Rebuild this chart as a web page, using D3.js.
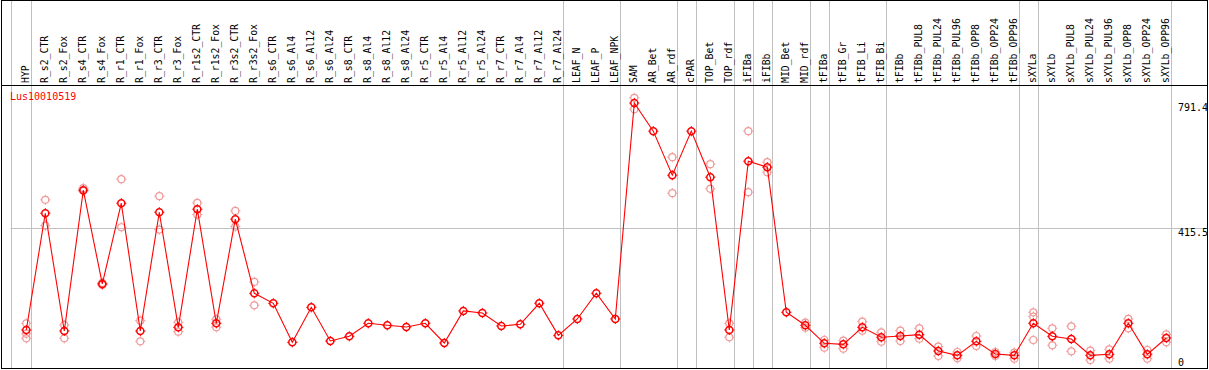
<!DOCTYPE html>
<html>
<head>
<meta charset="utf-8">
<script src="https://cdn.jsdelivr.net/npm/d3@7"></script>
<style>
  html, body { margin: 0; padding: 0; background: #fff; }
  svg { display: block; }
  text { font-family: "DejaVu Sans Mono", monospace; }
</style>
</head>
<body>
<svg id="chart" width="1209" height="370"></svg>
<script>
const title = "Lus10010519";
const categories = ["HYP","R_s2_CTR","R_s2_Fox","R_s4_CTR","R_s4_Fox","R_r1_CTR","R_r1_Fox","R_r3_CTR","R_r3_Fox","R_r1s2_CTR","R_r1s2_Fox","R_r3s2_CTR","R_r3s2_Fox","R_s6_CTR","R_s6_Al4","R_s6_Al12","R_s6_Al24","R_s8_CTR","R_s8_Al4","R_s8_Al12","R_s8_Al24","R_r5_CTR","R_r5_Al4","R_r5_Al12","R_r5_Al24","R_r7_CTR","R_r7_Al4","R_r7_Al12","R_r7_Al24","LEAF_N","LEAF_P","LEAF_NPK","SAM","AR_Bet","AR_rdf","cPAR","TOP_Bet","TOP_rdf","iFIBa","iFIBb","MID_Bet","MID_rdf","tFIBa","tFIB_Gr","tFIB_Li","tFIB_Bi","tFIBb","tFIBb_PUL8","tFIBb_PUL24","tFIBb_PUL96","tFIBb_OPP8","tFIBb_OPP24","tFIBb_OPP96","sXYLa","sXYLb","sXYLb_PUL8","sXYLb_PUL24","sXYLb_PUL96","sXYLb_OPP8","sXYLb_OPP24","sXYLb_OPP96"];
const means = [111,461,108,530,249,491,108,464,119,473,131,443,221,191,74,179,78,92,131,125,120,131,72,168,162,123,128,191,95,144,221,144,791.4,707,575,707,569,111,617,599,164,125,71,68,119,89,93,97,48,35,77,39,35,131,92,84,35,38,131,38,87];
const replicates = [
  [131,100,86],[501,424],[126,86],[536,528],[252,246],[563,419],[139,77],[512,412],[134,106],[492,457],[143,119],[468,421],[255,185],
  [],[],[],[],[],[],[],[],[],[],[],[],[],[],[],[],[],[],[],
  [807,773],[],[629,521],[],[608,534],[131,89],[707,524],[614,584],[],[133,118],
  [81,58],[79,55],[136,109],[104,76],[109,78],[116,85],[61,33],[45,26],[93,63],[45,33],[43,25],
  [164,151,81],[116,65],[122,47],[49,21],[53,25],[144,116],[51,25],[98,74]
];
const groupEnds = ["HYP","R_r7_Al24","LEAF_NPK","AR_rdf","cPAR","TOP_rdf","iFIBa","iFIBb","MID_rdf","tFIBa","tFIB_Bi","tFIBb_OPP96","sXYLa","sXYLb_OPP96"];
const yTicks = [0, 415.5, 791.4];
const gridValues = [415.5];

const W = 1209, H = 370;
const svg = d3.select("#chart");
const x = d3.scalePoint().domain(categories).range([26.3, 1166.3]);
const y = d3.scaleLinear().domain([0, 791.4]).range([367, 103]);
const gray = "#c0c0c0";
const plotLeft = 10.5, frameRight = 1207.5, bottom = 368.5, headerY = 85.5;

// vertical group separators (full height)
const sepX = [plotLeft].concat(groupEnds.map(c => x(c) + 4.4));
svg.append("g").selectAll("line").data(sepX).join("line")
  .attr("x1", d => Math.round(d) + 0.5).attr("x2", d => Math.round(d) + 0.5)
  .attr("y1", 0).attr("y2", bottom)
  .attr("stroke", gray).attr("stroke-width", 1);

// horizontal grid
svg.append("g").selectAll("line").data(gridValues).join("line")
  .attr("x1", plotLeft).attr("x2", frameRight)
  .attr("y1", d => Math.round(y(d)) + 0.5).attr("y2", d => Math.round(y(d)) + 0.5)
  .attr("stroke", gray).attr("stroke-width", 1);

// frame
svg.append("rect").attr("x", 1.5).attr("y", 0.5).attr("width", frameRight - 1.5).attr("height", bottom - 0.5)
  .attr("fill", "none").attr("stroke", "#000").attr("stroke-width", 1);
svg.append("line").attr("x1", 1.5).attr("x2", frameRight).attr("y1", headerY).attr("y2", headerY)
  .attr("stroke", "#000").attr("stroke-width", 1);

// header labels
svg.append("g").selectAll("text").data(categories).join("text")
  .attr("transform", d => `translate(${x(d) - 1},83) rotate(-90)`)
  .attr("dy", "0.35em")
  .attr("font-size", "9.8px")
  .attr("fill", "#000")
  .text(d => d);

// title
svg.append("text").attr("x", 10).attr("y", 100).attr("font-size", "10px").attr("fill", "#ff0000").text(title);

// y labels
svg.append("g").selectAll("text").data(yTicks).join("text")
  .attr("x", 1178).attr("y", d => Math.min(y(d) + 8, 365.5))
  .attr("font-size", "10px").attr("fill", "#000")
  .text(d => d3.format("")(d));

function marker(g, color, sw) {
  const r = 3.5;
  g.append("circle").attr("r", r).attr("fill", "none").attr("stroke", color).attr("stroke-width", sw);
  const t = [[0,-r,0,-r-1.6],[0,r,0,r+1.6],[-r,0,-r-1.6,0],[r,0,r+1.6,0]];
  t.forEach(s => g.append("line").attr("x1", s[0]).attr("y1", s[1]).attr("x2", s[2]).attr("y2", s[3])
    .attr("stroke", color).attr("stroke-width", 1));
}

// replicates
const repData = [];
categories.forEach((c, i) => replicates[i].forEach(v => repData.push({c, v})));
svg.append("g").selectAll("g").data(repData).join("g")
  .attr("transform", d => `translate(${x(d.c)},${y(d.v)})`)
  .each(function() { marker(d3.select(this), "#f09a9a", 1.2); });

// mean line
const line = d3.line().x((d, i) => x(categories[i])).y(d => y(d));
svg.append("path").datum(means).attr("d", line).attr("fill", "none").attr("stroke", "#ff0000").attr("stroke-width", 1.1);

// mean markers
svg.append("g").selectAll("g").data(means).join("g")
  .attr("transform", (d, i) => `translate(${x(categories[i])},${y(d)})`)
  .each(function() { marker(d3.select(this), "#ff0000", 1.5); });
</script>
</body>
</html>
